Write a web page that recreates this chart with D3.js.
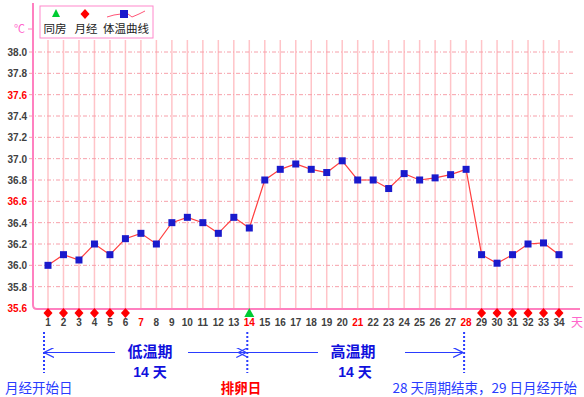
<!DOCTYPE html>
<html><head><meta charset="utf-8">
<script src="https://cdn.jsdelivr.net/npm/d3@7"></script>
<style>body{margin:0;background:#fff}svg{display:block}</style>
</head><body>
<script>
const days = d3.range(1, 35);
const temps = [36.0,36.1,36.05,36.2,36.1,36.25,36.3,36.2,36.4,36.45,36.4,36.3,36.45,36.35,
  36.8,36.9,36.95,36.9,36.87,36.98,36.8,36.8,36.72,36.86,36.8,36.82,36.85,36.9,
  36.1,36.02,36.1,36.2,36.21,36.1];
const periodDays = [1,2,3,4,5,6,29,30,31,32,33,34];
const sexDays = [14];
const redDays = [7,14,21,28];
const yTicks = [35.6,35.8,36.0,36.2,36.4,36.6,36.8,37.0,37.2,37.4,37.6,37.8,38.0];
const redTicks = [35.6,36.6,37.6];
const legendLabels = ["同房","月经","体温曲线"];
const markDays = [1,14,28];

const W=584,H=397;
const svg=d3.select("body").append("svg").attr("width",W).attr("height",H);
const x=d3.scaleLinear().domain([1,34]).range([48,559]);
const y=d3.scaleLinear().domain([35.6,38.0]).range([308,52]);
const diamond="M0,-5 L4.5,0 L0,5 L-4.5,0 Z";

// vertical grid
svg.append("g").selectAll("line").data(days).join("line")
  .attr("x1",d=>x(d)).attr("x2",d=>x(d)).attr("y1",40).attr("y2",308)
  .attr("stroke","#ffc4c8").attr("stroke-width",1.5);
// horizontal grid
svg.append("g").selectAll("line").data(yTicks.slice(1)).join("line")
  .attr("x1",29).attr("x2",573).attr("y1",d=>y(d)).attr("y2",d=>y(d))
  .attr("stroke","#f7a0aa").attr("stroke-width",1).attr("stroke-dasharray","4,2,1,2");

// axes lines
svg.append("path").attr("d",`M33,3 V305 Q33,309 37,309 H580`)
  .attr("fill","none").attr("stroke","#ff80c0").attr("stroke-width",2);
svg.append("line").attr("x1",28).attr("x2",33).attr("y1",29).attr("y2",29).attr("stroke","#ff80c0");
svg.append("text").attr("x",14).attr("y",33).text("℃").attr("fill","#ff66cc")
  .attr("font-family","Noto Sans CJK SC").attr("font-size",11);

// y labels
svg.append("g").selectAll("text").data(yTicks).join("text")
  .attr("x",27).attr("y",d=>y(d)+4).attr("text-anchor","end")
  .attr("font-family","Liberation Sans, Arial").attr("font-weight","bold").attr("font-size",10)
  .attr("fill",d=>redTicks.includes(d)?"#ff0000":"#404040").text(d=>d.toFixed(1));

// x labels
svg.append("g").selectAll("text").data(days).join("text")
  .attr("x",d=>x(d)).attr("y",326).attr("text-anchor","middle")
  .attr("font-family","Liberation Sans, Arial").attr("font-weight","bold").attr("font-size",10)
  .attr("fill",d=>redDays.includes(d)?"#ff0000":"#404040").text(d=>d);
svg.append("text").attr("x",577).attr("y",327).attr("text-anchor","middle").text("天")
  .attr("fill","#ff66cc").attr("font-family","Noto Sans CJK SC").attr("font-size",12);

// markers
svg.append("g").selectAll("path").data(periodDays).join("path")
  .attr("transform",d=>`translate(${x(d)},313)`)
  .attr("d",diamond).attr("fill","#ff0000");
svg.append("g").selectAll("path").data(sexDays).join("path")
  .attr("transform",d=>`translate(${x(d)},313)`)
  .attr("d","M0,-5 L5,4 L-5,4 Z").attr("fill","#00cc33");

// line
svg.append("path").datum(days).attr("fill","none").attr("stroke","#ff4040").attr("stroke-width",1.2)
  .attr("d",d3.line().x(d=>x(d)).y((d,i)=>y(temps[i])));
svg.append("g").selectAll("rect").data(days).join("rect")
  .attr("x",d=>x(d)-3.5).attr("y",(d,i)=>y(temps[i])-3.5).attr("width",7).attr("height",7)
  .attr("fill","#1a1acc");

// legend
const lg=svg.append("g");
lg.append("rect").attr("x",40).attr("y",6).attr("width",113).attr("height",32)
  .attr("fill","#fff").attr("stroke","#ff88cc").attr("stroke-width",1);
lg.append("path").attr("d","M56,9 L60,17 L52,17 Z").attr("fill","#00cc33");
lg.append("path").attr("transform","translate(85,14)").attr("d",diamond).attr("fill","#ff0000");
lg.append("path").attr("d","M107,17 L114,15 L121,14 M128,14 L132,17 L139,14 L145,11").attr("fill","none").attr("stroke","#ff5577");
lg.append("rect").attr("x",120).attr("y",10).attr("width",8).attr("height",8).attr("fill","#1a1acc");
lg.selectAll("text").data(legendLabels).join("text")
  .attr("x",(d,i)=>[55,86,126][i]).attr("y",33).attr("text-anchor","middle")
  .attr("font-family","Noto Sans CJK SC").attr("font-size",11.5).attr("fill","#222").text(d=>d);

// bottom annotations
const blue="#2a3cff";
svg.append("g").selectAll("line").data(markDays).join("line")
  .attr("x1",d=>x(d)-(d===1?4:2)).attr("x2",d=>x(d)-(d===1?4:2)).attr("y1",332).attr("y2",373)
  .attr("stroke",blue).attr("stroke-width",2).attr("stroke-dasharray","2,2");
const defs=svg.append("defs");
defs.append("marker").attr("id","ah").attr("viewBox","0 0 10 10").attr("refX",10).attr("refY",5)
  .attr("markerWidth",10).attr("markerHeight",10).attr("markerUnits","userSpaceOnUse").attr("orient","auto")
  .append("path").attr("d","M0,0 L10,5 L0,10").attr("fill","none").attr("stroke",blue).attr("stroke-width",1.2);
const arrows=[[x(1)-4+10,115,true],[188,x(14)-3,false],[x(14)-1,318,true],[405,x(28)-3,false]];
arrows.forEach(([a,b,left])=>{
  const l=svg.append("line").attr("y1",352.5).attr("y2",352.5).attr("stroke",blue).attr("stroke-width",1.2);
  if(left){l.attr("x1",b).attr("x2",a-10).attr("marker-end","url(#ah)");}
  else{l.attr("x1",a).attr("x2",b).attr("marker-end","url(#ah)");}
});
const cjk="Noto Sans CJK SC";
function t(xp,yp,s,fill,size,weight,anchor,fam){
  svg.append("text").attr("x",xp).attr("y",yp).text(s).attr("fill",fill).attr("font-size",size)
   .attr("font-weight",weight||"normal").attr("text-anchor",anchor||"middle").attr("font-family",fam||cjk);
}
t(150,357,"低温期","#1010dd",15,"bold");
t(150,377,"14 天","#1010dd",14,"bold","middle","Liberation Sans, "+cjk);
t(353,357,"高温期","#1010dd",15,"bold");
t(355,377,"14 天","#1010dd",14,"bold","middle","Liberation Sans, "+cjk);
t(5,393,"月经开始日",blue,13.5,"normal","start");
t(241,393,"排卵日","#ff0000",13.5,"bold");
t(577,393,"28 天周期结束，29 日月经开始",blue,13.5,"normal","end");
</script>
</body></html>
